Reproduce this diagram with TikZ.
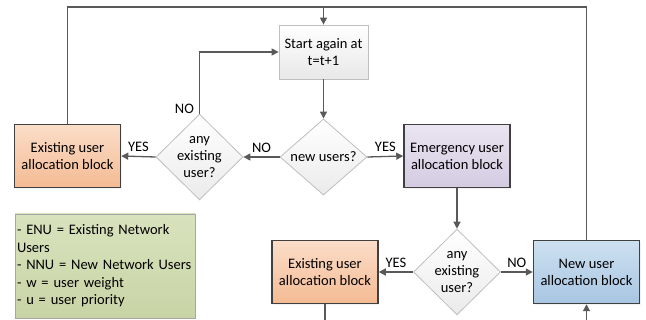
\documentclass[tikz,border=0pt]{standalone}
\usepackage{fontspec}
\setmainfont{Carlito}
\usetikzlibrary{arrows.meta,shapes.geometric,shadows}

\definecolor{linegray}{HTML}{595959}
\definecolor{edgedark}{HTML}{404040}
\definecolor{edgelight}{HTML}{BFBFBF}

\tikzset{
  flow/.style={draw=linegray, line width=1.3pt, -{Triangle[length=7pt,width=7pt]}},
  plainline/.style={draw=linegray, line width=1.3pt},
  softshadow/.style={drop shadow={opacity=0.1, shadow xshift=1.2pt, shadow yshift=-1.2pt}},
  blockbox/.style={rectangle, draw=edgedark, line width=1.5pt, minimum width=106pt,
    minimum height=63pt, align=center, font=\fontsize{14.5}{17}\selectfont, inner sep=0pt,
    softshadow},
  startbox/.style={rectangle, draw=edgelight, line width=0.8pt, minimum width=89pt,
    minimum height=54pt, align=center, font=\fontsize{14.5}{17}\selectfont, inner sep=0pt,
    top color=white, bottom color=black!9, softshadow},
  decision/.style={diamond, draw=edgelight, line width=0.8pt, minimum width=87pt,
    minimum height=70pt, align=center, font=\fontsize{14.5}{17}\selectfont, inner sep=0pt,
    top color=white, bottom color=black!8},
  orangefill/.style={top color={rgb,255:red,251;green,221;blue,200}, bottom color={rgb,255:red,244;green,187;blue,148}},
  purplefill/.style={top color={rgb,255:red,234;green,229;blue,241}, bottom color={rgb,255:red,212;green,203;blue,225}},
  bluefill/.style={top color={rgb,255:red,205;green,224;blue,240}, bottom color={rgb,255:red,168;green,198;blue,226}},
  lbl/.style={font=\fontsize{14.5}{17}\selectfont, inner sep=0pt},
}

\begin{document}
\begin{tikzpicture}[x=1pt, y=-1pt]
  \useasboundingbox[fill=white] (0,0) rectangle (646,320);

  % process and decision nodes
  \node[startbox] (start) at (323.5,52) {Start again at\\t=t+1};
  \node[decision] (newusers) at (323.5,157) {new users?};
  \node[decision] (anyleft) at (199.5,157) {any\\existing\\user?};
  \node[blockbox, orangefill] (exleft) at (67.5,156) {Existing user\\allocation block};
  \node[blockbox, purplefill] (emerg) at (457,156) {Emergency user\\allocation block};
  \node[decision] (anyright) at (457,272) {any\\existing\\user?};
  \node[blockbox, orangefill] (exright) at (325,272) {Existing user\\allocation block};
  \node[blockbox, bluefill] (newblock) at (586.5,272) {New user\\allocation block};

  % legend
  \node[rectangle, draw=black!35, line width=0.8pt, minimum width=180pt, minimum height=104pt,
        top color={rgb,255:red,216;green,227;blue,190}, bottom color={rgb,255:red,200;green,212;blue,165},
        softshadow, align=left, text width=176pt, inner sep=2pt, font=\fontsize{14.5}{17.5}\selectfont]
        (legend) at (105,266)
        {- ENU = Existing Network\\Users\\- NNU = New Network Users\\- w = user weight\\- u = user priority};

  % loop back to the start along the top
  \coordinate (join) at (323.5,7);
  \coordinate (bottomleft) at (325,320);
  \coordinate (bottomright) at (586.5,320);
  \draw[plainline] (exleft.north) |- (join);
  \draw[plainline] (newblock.north) |- (join);
  \draw[flow] (join) -- (start.north);

  % main flow
  \draw[flow] (start.south) -- (newusers.north);
  \draw[flow] (newusers.east) -- node[lbl, above=4pt] {YES} (emerg.west);
  \draw[flow] (newusers.west) -- node[lbl, above=4pt] {NO} (anyleft.east);
  \draw[flow] (anyleft.west) -- node[lbl, above=4pt] {YES} (exleft.east);
  \draw[flow] (anyleft.north) |- node[lbl, pos=0.04, left=5pt] {NO} (start.west);
  \draw[flow] (emerg.south) -- (anyright.north);
  \draw[flow] (anyright.west) -- node[lbl, above=4pt] {YES} (exright.east);
  \draw[flow] (anyright.east) -- node[lbl, above=4pt] {NO} (newblock.west);
  \draw[plainline] (exright.south) -- (bottomleft);
  \draw[flow] (bottomright) -- (newblock.south);
\end{tikzpicture}
\end{document}
